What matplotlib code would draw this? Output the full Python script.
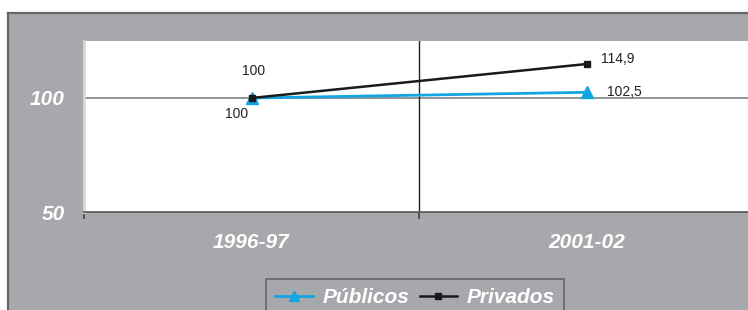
import matplotlib
matplotlib.use("Agg")
import matplotlib.pyplot as plt
from matplotlib.patches import Rectangle
from matplotlib.lines import Line2D

categories = ["1996-97", "2001-02"]
publicos = [100, 102.5]
privados = [100, 114.9]
pub_labels = ["100", "102,5"]
priv_labels = ["100", "114,9"]
yticks = [50, 100]

W, H = 748, 310
fig = plt.figure(figsize=(W / 100, H / 100), dpi=100)
fig.patch.set_facecolor("white")
plt.rcParams["font.family"] = ["Liberation Sans", "DejaVu Sans"]

panel = "#A7A8AC"
fig.patches.append(Rectangle((7 / W, 0), 1, 1 - 12.5 / H, transform=fig.transFigure,
                             facecolor=panel, edgecolor="none", zorder=-10))
fig.add_artist(Line2D([7.5 / W, 1], [1 - 12.5 / H] * 2, transform=fig.transFigure,
                      color="#666666", lw=1.6, zorder=-9))
fig.add_artist(Line2D([7.5 / W] * 2, [0, 1 - 12.5 / H], transform=fig.transFigure,
                      color="#666666", lw=1.6, zorder=-9))

ax = fig.add_axes([84 / W, 1 - 212 / H, 670 / W, 171 / H])
ax.set_zorder(2)
ax.set_facecolor("white")
x = [0.5, 1.5]
ax.set_xlim(0, 2)
ax.set_ylim(50, 125)

ax.axhline(100, color="#777777", lw=1.1, zorder=1)
ax.axvline(1, color="#222222", lw=1.0, zorder=1)

ax.plot(x, publicos, color="#12A5E3", lw=2, marker="^", ms=9, zorder=3, label="Públicos")
ax.plot(x, privados, color="#1a1a1a", lw=1.8, marker="s", ms=5, zorder=4, label="Privados")

kw = dict(textcoords="offset points", fontsize=10, color="#222222", ha="center", va="center")
ax.annotate(priv_labels[0], (x[0], privados[0]), xytext=(1.5, 19.5), **kw)
ax.annotate(pub_labels[0], (x[0], publicos[0]), xytext=(-11, -11.5), **kw)
ax.annotate(priv_labels[1], (x[1], privados[1]), xytext=(22.5, 3.5), **kw)
ax.annotate(pub_labels[1], (x[1], publicos[1]), xytext=(27.5, 0.5), **kw)

for s in ["top", "right"]:
    ax.spines[s].set_visible(False)
ax.spines["left"].set_color("#D8D8D8")
ax.spines["left"].set_linewidth(2)
ax.spines["bottom"].set_color("#555555")
ax.spines["bottom"].set_linewidth(1.2)

ax.set_yticks(yticks)
ax.set_yticklabels([str(v) for v in yticks], fontsize=15, fontweight="bold",
                   fontstyle="italic", color="white")
ax.tick_params(axis="y", length=0, pad=14)

ax.set_xticks([0, 1])
ax.set_xticklabels(["", ""])
ax.set_xticks(x, minor=True)
ax.set_xticklabels(categories, minor=True, fontsize=15, fontweight="bold",
                   fontstyle="italic", color="white")
ax.tick_params(axis="x", which="major", length=5, width=1.2, color="#444444", direction="out")
ax.tick_params(axis="x", which="minor", length=0, pad=15)

leg = fig.legend(loc="upper left", bbox_to_anchor=(266 / W, 1 - 279 / H), ncol=2,
                 frameon=True, fancybox=False, borderpad=0.45, borderaxespad=0,
                 handlelength=1.8, columnspacing=0.5, handletextpad=0.45,
                 prop=dict(weight="bold", style="italic", size=15))
leg.get_frame().set_facecolor(panel)
leg.get_frame().set_edgecolor("#555555")
leg.get_frame().set_linewidth(1.2)
for t in leg.get_texts():
    t.set_color("white")
for h in leg.legend_handles:
    h.set_markersize(h.get_markersize() * 0.75)

fig.savefig("out.png", dpi=100)
